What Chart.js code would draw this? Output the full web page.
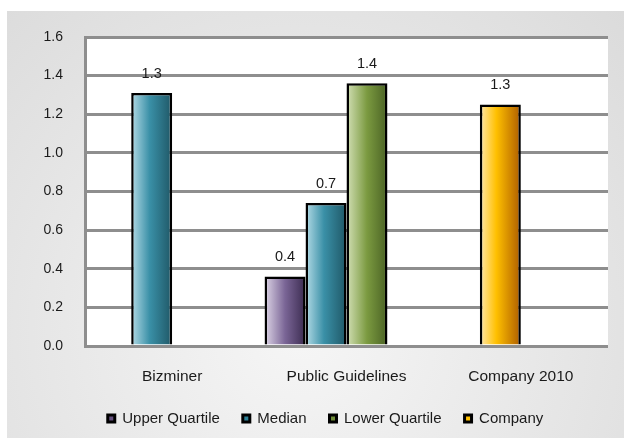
<!DOCTYPE html>
<html>
<head>
<meta charset="utf-8">
<script src="https://cdn.jsdelivr.net/npm/chart.js@4/dist/chart.umd.min.js"></script>
<style>
  html, body { margin: 0; padding: 0; background: #ffffff; }
  #wrap { width: 624px; height: 438px; }
</style>
</head>
<body>
<div id="wrap"><canvas id="chart" width="624" height="438"></canvas></div>
<script>
// Benchmarks by source
const categories = ['Bizminer', 'Public Guidelines', 'Company 2010'];
const upperQuartile = [null, 0.36, null];
const median = [1.31, 0.74, null];
const lowerQuartile = [null, 1.36, null];
const company = [null, null, 1.25];

// Value axis
const yMin = 0;
const yMax = 1.6;
const yStep = 0.2;

// Horizontal shading of each series (light edge -> dark edge)
const shading = {
  'Upper Quartile': [[0, '#ded6e7'], [0.5, '#7a6596'], [1, '#3b2b50']],
  'Median':         [[0, '#b4dbe6'], [0.45, '#3a90a7'], [1, '#1f5766']],
  'Lower Quartile': [[0, '#d3e0b6'], [0.5, '#7b9a40'], [1, '#4a6224']],
  'Company':        [[0, '#ffe7ab'], [0.4, '#ffc000'], [1, '#ad5c00']]
};

const FONT = "'Liberation Sans', Arial, sans-serif";
const TEXT = '#1a1a1a';
const GRID = '#8e8e8e';

// Background panel + white plot area
const panelPlugin = {
  id: 'panel',
  beforeDraw(chart) {
    const { ctx, width, height, chartArea: a } = chart;
    ctx.save();
    ctx.fillStyle = '#ffffff';
    ctx.fillRect(0, 0, width, height);
    const g = ctx.createRadialGradient(300, 330, 0, 300, 330, 470);
    g.addColorStop(0, '#f6f6f6');
    g.addColorStop(1, '#dadada');
    ctx.fillStyle = g;
    ctx.fillRect(7, 11, width - 7, height - 11);
    ctx.fillStyle = '#ffffff';
    ctx.fillRect(a.left, a.top, a.right - a.left, a.bottom - a.top);
    ctx.restore();
  }
};

// Per-bar horizontal gradients
const shadePlugin = {
  id: 'shade',
  beforeDatasetsDraw(chart) {
    const ctx = chart.ctx;
    chart.data.datasets.forEach((ds, di) => {
      const stops = shading[ds.label];
      if (!stops) return;
      const meta = chart.getDatasetMeta(di);
      meta.data.forEach((el, i) => {
        if (ds.data[i] == null) return;
        const { x, width } = el.getProps(['x', 'width'], true);
        const g = ctx.createLinearGradient(x - width / 2, 0, x + width / 2, 0);
        stops.forEach(([o, c]) => g.addColorStop(o, c));
        el.options = Object.assign({}, el.options, { backgroundColor: g });
      });
    });
  }
};

// Baseline over the bar feet, then value labels above each bar
const labelPlugin = {
  id: 'valueLabels',
  afterDatasetsDraw(chart) {
    const { ctx, chartArea: a } = chart;
    const y0 = chart.scales.y.getPixelForValue(0);
    ctx.save();
    ctx.strokeStyle = GRID;
    ctx.lineWidth = 3;
    ctx.beginPath();
    ctx.moveTo(a.left, Math.round(y0) + 0.5);
    ctx.lineTo(a.right, Math.round(y0) + 0.5);
    ctx.stroke();

    ctx.fillStyle = TEXT;
    ctx.font = '14.5px ' + FONT;
    ctx.textAlign = 'center';
    ctx.textBaseline = 'middle';
    chart.data.datasets.forEach((ds, di) => {
      const meta = chart.getDatasetMeta(di);
      meta.data.forEach((el, i) => {
        const v = ds.data[i];
        if (v == null) return;
        ctx.fillText(v.toFixed(1), el.x, el.y - 19.5);
      });
    });
    ctx.restore();
  }
};

const barStyle = { borderColor: '#000000', borderWidth: 2.5, borderSkipped: 'start' };

new Chart(document.getElementById('chart'), {
  type: 'bar',
  data: {
    labels: categories,
    datasets: [
      Object.assign({ label: 'Upper Quartile', data: upperQuartile, backgroundColor: '#65517f', stack: 's1' }, barStyle),
      Object.assign({ label: 'Median', data: median, backgroundColor: '#2f8399', stack: 's2' }, barStyle),
      Object.assign({ label: 'Lower Quartile', data: lowerQuartile, backgroundColor: '#6f8d38', stack: 's3' }, barStyle),
      Object.assign({ label: 'Company', data: company, backgroundColor: '#ffc000', stack: 's2' }, barStyle),
      // empty fourth slot of each category group
      Object.assign({ label: '', data: [null, null, null], backgroundColor: 'rgba(0,0,0,0)', stack: 's4' }, barStyle)
    ]
  },
  options: {
    responsive: false,
    animation: false,
    devicePixelRatio: 1,
    categoryPercentage: 0.94,
    barPercentage: 1,
    layout: { padding: { left: 43, right: 16, top: 37, bottom: 2 } },
    plugins: {
      tooltip: { enabled: false },
      legend: {
        position: 'bottom',
        labels: {
          font: { family: FONT, size: 15 },
          color: TEXT,
          boxWidth: 7,
          boxHeight: 7,
          padding: 23,
          filter: (item) => item.text !== '',
          generateLabels: (chart) =>
            Chart.defaults.plugins.legend.labels.generateLabels(chart)
              .map((item) => Object.assign(item, { lineWidth: 3, strokeStyle: '#000000' }))
        }
      }
    },
    scales: {
      x: {
        grid: { display: false, drawTicks: false },
        border: { display: false },
        ticks: { font: { family: FONT, size: 15.5 }, color: TEXT, padding: 21.5, maxRotation: 0 },
        afterFit: (s) => { s.height = 42; }
      },
      y: {
        min: yMin,
        max: yMax,
        grid: { color: GRID, lineWidth: 3, drawTicks: false },
        border: { display: true, color: GRID, width: 3 },
        ticks: {
          stepSize: yStep,
          font: { family: FONT, size: 14 },
          color: TEXT,
          padding: 22,
          callback: (v) => Number(v).toFixed(1)
        },
        afterFit: (s) => { s.width = 42; }
      }
    }
  },
  plugins: [panelPlugin, shadePlugin, labelPlugin]
});
</script>
</body>
</html>
